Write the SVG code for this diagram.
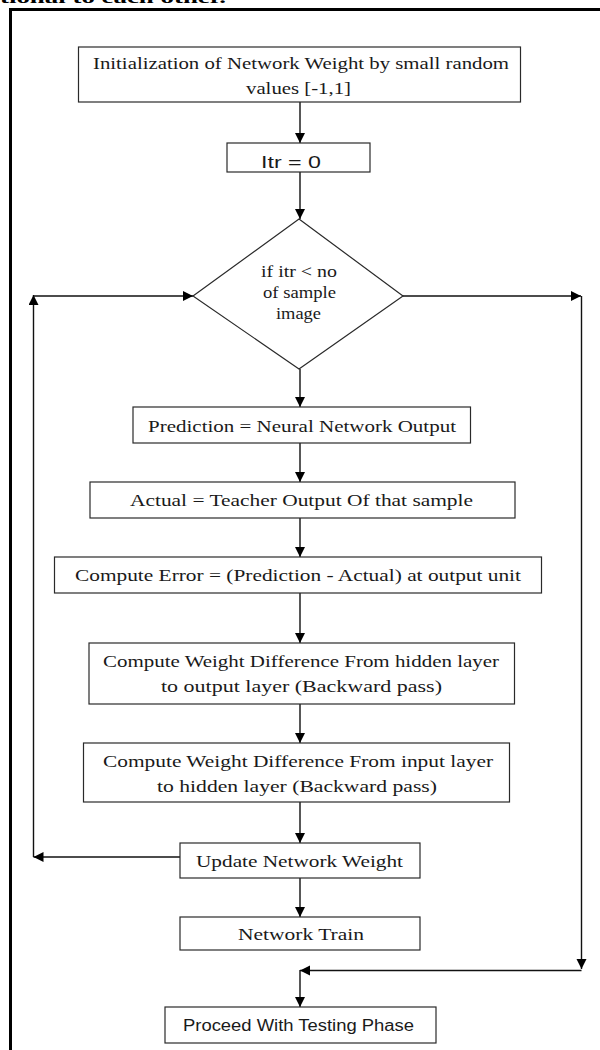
<svg xmlns="http://www.w3.org/2000/svg" width="600" height="1050" viewBox="0 0 600 1050">
<style>
.box{fill:#fff;stroke:#2a2a2a;stroke-width:1.2}
.t{font-family:"Liberation Serif","Times New Roman",serif;font-size:17.5px;fill:#1a1a1a}
.s{font-family:"Liberation Sans",Arial,sans-serif;font-size:16px;fill:#1a1a1a}
.c{fill:none;stroke:#111;stroke-width:1.4}
</style>
<defs>
<marker id="ah" markerUnits="userSpaceOnUse" markerWidth="11" markerHeight="11" refX="10" refY="5" orient="auto">
<path d="M0,0 L10,5 L0,10 z" fill="#000"/>
</marker>
</defs>
<rect width="600" height="1050" fill="#fff"/>
<text x="0" y="3" style="font-family:'Liberation Serif',serif;font-size:16px;font-weight:bold" textLength="226" lengthAdjust="spacingAndGlyphs">tional to each other.</text>
<path d="M10.5,1050 L10.5,9.5 L600,9.5" fill="none" stroke="#000" stroke-width="3"/>

<g id="connectors">
<line class="c" x1="300" y1="102" x2="300" y2="143" marker-end="url(#ah)"/>
<line class="c" x1="300" y1="172" x2="300" y2="219" marker-end="url(#ah)"/>
<line class="c" x1="300" y1="369" x2="300" y2="407" marker-end="url(#ah)"/>
<line class="c" x1="300" y1="443" x2="300" y2="482" marker-end="url(#ah)"/>
<line class="c" x1="300" y1="518" x2="300" y2="557" marker-end="url(#ah)"/>
<line class="c" x1="300" y1="593" x2="300" y2="643" marker-end="url(#ah)"/>
<line class="c" x1="300" y1="704" x2="300" y2="743" marker-end="url(#ah)"/>
<line class="c" x1="300" y1="802" x2="300" y2="843" marker-end="url(#ah)"/>
<line class="c" x1="300" y1="878" x2="300" y2="917" marker-end="url(#ah)"/>
<line class="c" x1="180" y1="857" x2="33.5" y2="857" marker-end="url(#ah)"/>
<line class="c" x1="33.5" y1="857" x2="33.5" y2="295" marker-end="url(#ah)"/>
<line class="c" x1="33.5" y1="296" x2="193" y2="296" marker-end="url(#ah)"/>
<line class="c" x1="403" y1="296" x2="581" y2="296" marker-end="url(#ah)"/>
<line class="c" x1="581.5" y1="296" x2="581.5" y2="969" marker-end="url(#ah)"/>
<line class="c" x1="581.5" y1="970.5" x2="300" y2="970.5" marker-end="url(#ah)"/>
<line class="c" x1="300" y1="970" x2="300" y2="1007" marker-end="url(#ah)"/>
</g>

<g id="init">
<rect class="box" x="78.5" y="47" width="442" height="55"/>
<text class="t" x="93" y="69" textLength="416" lengthAdjust="spacingAndGlyphs">Initialization of Network Weight by small random</text>
<text class="t" x="246" y="94" textLength="105" lengthAdjust="spacingAndGlyphs">values [-1,1]</text>
</g>
<g id="itr">
<rect class="box" x="227" y="143" width="143" height="29"/>
<text class="s" x="261" y="168" textLength="60" lengthAdjust="spacingAndGlyphs">Itr = 0</text>
</g>
<g id="decision">
<polygon class="box" points="299,219 403,296 299,369 193,296"/>
<text class="t" x="261" y="277" textLength="76" lengthAdjust="spacingAndGlyphs">if  itr &lt; no</text>
<text class="t" x="263" y="298" textLength="73" lengthAdjust="spacingAndGlyphs">of sample</text>
<text class="t" x="276" y="319" textLength="45" lengthAdjust="spacingAndGlyphs">image</text>
</g>
<g id="prediction">
<rect class="box" x="133" y="407" width="337.5" height="36"/>
<text class="t" x="148" y="432" textLength="308" lengthAdjust="spacingAndGlyphs">Prediction = Neural Network Output</text>
</g>
<g id="actual">
<rect class="box" x="90" y="482" width="425" height="36"/>
<text class="t" x="130" y="506" textLength="343" lengthAdjust="spacingAndGlyphs">Actual = Teacher Output Of that sample</text>
</g>
<g id="error">
<rect class="box" x="54.5" y="557" width="487" height="36"/>
<text class="t" x="75" y="581" textLength="446" lengthAdjust="spacingAndGlyphs">Compute Error = (Prediction - Actual) at output unit</text>
</g>
<g id="wd-hidden-output">
<rect class="box" x="89" y="643" width="425.5" height="61"/>
<text class="t" x="103" y="667" textLength="396" lengthAdjust="spacingAndGlyphs">Compute Weight Difference From  hidden layer</text>
<text class="t" x="161" y="692" textLength="281" lengthAdjust="spacingAndGlyphs">to output layer (Backward  pass)</text>
</g>
<g id="wd-input-hidden">
<rect class="box" x="83.5" y="743" width="426" height="59"/>
<text class="t" x="103" y="767" textLength="390" lengthAdjust="spacingAndGlyphs">Compute Weight Difference From  input layer</text>
<text class="t" x="157" y="792" textLength="280" lengthAdjust="spacingAndGlyphs">to hidden layer (Backward  pass)</text>
</g>
<g id="update">
<rect class="box" x="180" y="843" width="240" height="35"/>
<text class="t" x="196" y="867" textLength="207" lengthAdjust="spacingAndGlyphs">Update Network Weight</text>
</g>
<g id="train">
<rect class="box" x="180" y="917" width="240" height="33"/>
<text class="t" x="238" y="940" textLength="126" lengthAdjust="spacingAndGlyphs">Network Train</text>
</g>
<g id="testing">
<rect class="box" x="165" y="1007" width="271" height="36"/>
<text class="s" x="183" y="1031" textLength="231" lengthAdjust="spacingAndGlyphs">Proceed With Testing Phase</text>
</g>
</svg>
